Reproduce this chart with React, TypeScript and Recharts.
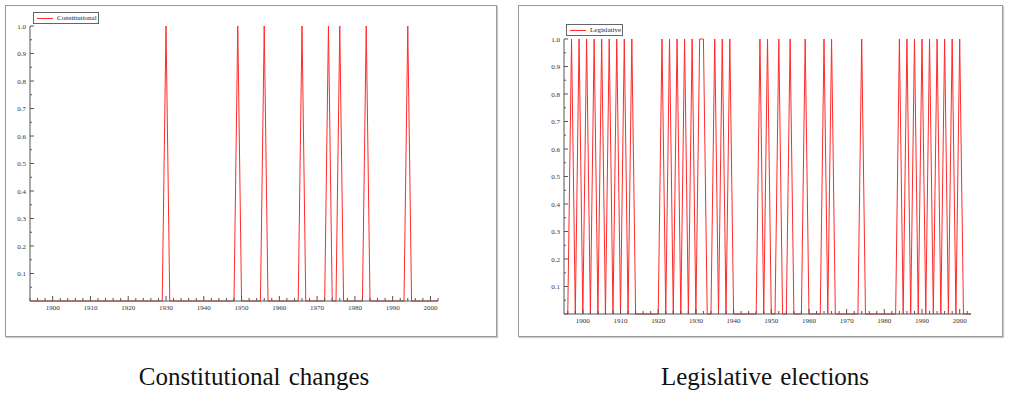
import React from "react";
import { Line, LineChart, XAxis, YAxis } from "recharts";

const FONT = '"Liberation Serif", "Times New Roman", serif';

// years in which an event happened (value 1), every other year is 0
const constitutionalYears = [1930, 1949, 1956, 1966, 1973, 1976, 1983, 1994];
const legislativeYears = [
  1897, 1899, 1901, 1903, 1905, 1907, 1909, 1911, 1913,
  1921, 1923, 1925, 1927, 1929, 1931, 1932, 1935, 1937, 1939,
  1947, 1949, 1952, 1955, 1959, 1964, 1966, 1974,
  1984, 1986, 1988, 1990, 1992, 1994, 1996, 1998, 2000,
];

const decadeLabels = [1900, 1910, 1920, 1930, 1940, 1950, 1960, 1970, 1980, 1990, 2000];
const yTicks = [
  0.05, 0.1, 0.15, 0.2, 0.25, 0.3, 0.35, 0.4, 0.45, 0.5,
  0.55, 0.6, 0.65, 0.7, 0.75, 0.8, 0.85, 0.9, 0.95, 1.0,
];

const makeSeries = (events: number[], from: number, to: number) => {
  const rows = [];
  for (let year = from; year <= to; year++) {
    rows.push({ year, value: events.includes(year) ? 1 : 0 });
  }
  return rows;
};

const makeTicks = (from: number, to: number) => {
  const t = [];
  for (let y = from; y <= to; y += 2) t.push(y);
  return t;
};

const constitutionalData = makeSeries(constitutionalYears, 1894, 2002);
const legislativeData = makeSeries(legislativeYears, 1895, 2003);

const XTick = ({ x, y, payload }: any) => {
  const major = decadeLabels.includes(payload.value);
  return (
    <g>
      <line x1={x} x2={x} y1={y} y2={y - (major ? 5 : 3)} stroke="#555" />
      {major && (
        <text x={x} y={y + 9} textAnchor="middle" fontSize={7} fontFamily={FONT} fill="#333">
          {payload.value}
        </text>
      )}
    </g>
  );
};

const YTick = ({ x, y, payload }: any) => {
  const v = payload.value;
  const major = Math.abs(v * 10 - Math.round(v * 10)) < 1e-6;
  return (
    <g>
      <line x1={x} x2={x + (major ? 4 : 2)} y1={y} y2={y} stroke="#555" />
      {major && (
        <text x={x - 4} y={y + 2.5} textAnchor="end" fontSize={7} fontFamily={FONT} fill="#333">
          {v.toFixed(1)}
        </text>
      )}
    </g>
  );
};

const LegendBox = ({ label, left, top, width }: any) => (
  <div
    style={{
      position: "absolute",
      left,
      top,
      width,
      height: 10,
      border: "1px solid #666",
      background: "#fff",
      fontFamily: FONT,
      fontSize: 7,
      lineHeight: "10px",
      color: "#222",
      whiteSpace: "nowrap",
    }}
  >
    <span
      style={{
        display: "inline-block",
        width: 16,
        height: 1,
        background: "#ff3030",
        verticalAlign: "middle",
        margin: "0 4px 0 3px",
      }}
    />
    {label}
  </div>
);

const Panel = ({ left, top, width, height }: any) => (
  <div
    style={{
      position: "absolute",
      left,
      top,
      width,
      height,
      border: "1px solid #999",
      boxShadow: "1px 1px 1px #ccc",
      boxSizing: "border-box",
    }}
  />
);

const EventChart = ({ data, domain, ticks, width, height, margin }: any) => (
  <LineChart width={width} height={height} data={data} margin={margin}>
    <XAxis
      type="number"
      dataKey="year"
      domain={domain}
      ticks={ticks}
      interval={0}
      allowDataOverflow
      height={29}
      tickSize={0}
      tickMargin={0}
      tickLine={false}
      axisLine={{ stroke: "#555" }}
      tick={(p: any) => <XTick {...p} />}
    />
    <YAxis
      type="number"
      domain={[0, 1]}
      ticks={yTicks}
      interval={0}
      width={30}
      tickSize={0}
      tickMargin={0}
      tickLine={false}
      axisLine={{ stroke: "#555" }}
      tick={(p: any) => <YTick {...p} />}
    />
    <Line
      type="linear"
      dataKey="value"
      stroke="#ff2a2a"
      strokeWidth={1}
      dot={false}
      isAnimationActive={false}
    />
  </LineChart>
);

const captionStyle: React.CSSProperties = {
  position: "absolute",
  width: 400,
  textAlign: "center",
  fontFamily: FONT,
  fontSize: 25,
  wordSpacing: 2,
  lineHeight: "30px",
  color: "#111",
};

export default function App() {
  return (
    <div
      style={{
        position: "fixed",
        left: 0,
        top: 0,
        width: 1011,
        height: 394,
        background: "#fff",
        overflow: "hidden",
      }}
    >
      <Panel left={5} top={5} width={492} height={332} />
      <Panel left={518} top={5} width={485} height={332} />

      <div style={{ position: "absolute", left: 0, top: 0 }}>
        <EventChart
          data={constitutionalData}
          domain={[1894, 2002]}
          ticks={makeTicks(1894, 2002)}
          width={460}
          height={330}
          margin={{ top: 26, right: 22, bottom: 0, left: 0 }}
        />
      </div>
      <LegendBox label="Constitutional" left={33} top={12} width={64} />

      <div style={{ position: "absolute", left: 534, top: 0 }}>
        <EventChart
          data={legislativeData}
          domain={[1895, 2003]}
          ticks={makeTicks(1896, 2002)}
          width={460}
          height={343}
          margin={{ top: 39, right: 23, bottom: 0, left: 0 }}
        />
      </div>
      <LegendBox label="Legislative" left={566} top={24} width={55} />

      <div style={{ ...captionStyle, left: 54, top: 362 }}>Constitutional changes</div>
      <div style={{ ...captionStyle, left: 565, top: 362 }}>Legislative elections</div>
    </div>
  );
}
